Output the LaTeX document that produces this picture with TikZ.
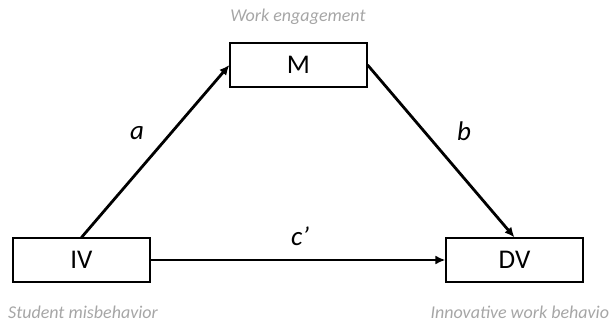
\documentclass[tikz,border=0pt]{standalone}
\usepackage{fontspec}
\setmainfont{Carlito}
\usetikzlibrary{arrows.meta}
\definecolor{labelgray}{HTML}{A6A6A6}
\begin{document}
\begin{tikzpicture}[x=1pt,y=-1pt,
    varbox/.style={draw, line width=1.2pt, minimum width=137pt, minimum height=44pt,
                   inner sep=0pt, font=\fontsize{27}{30}\selectfont},
    varname/.style={text=labelgray, font=\fontsize{18}{21}\selectfont\itshape},
    path/.style={line width=2.8pt, -{Latex[length=10pt,width=9pt]}},
    coef/.style={font=\fontsize{27}{30}\selectfont\itshape}]
    \useasboundingbox (0,0) rectangle (609,323);

    % variables
    \node[varbox] (m)  at (298.5,65)  {M};
    \node[varbox] (iv) at (81.5,260)  {IV};
    \node[varbox] (dv) at (514.5,260) {DV};

    % names of the variables
    \node[varname] (mname)  at (298,17)          {Work engagement};
    \node[varname] (ivname) at (83,312)          {Student misbehavior};
    \node[varname, anchor=west] (dvname) at (427,312) {Innovative work behavior};

    % paths
    \draw[path] (iv.north) -- (m.west);
    \draw[path] (m.east) -- (dv.north);
    \draw[path] (iv.east) -- (dv.west);

    % coefficients
    \node[coef] (a)  at (137,133) {a};
    \node[coef] (b)  at (464,131) {b};
    \node[coef] (cp) at (300,236) {c’};
\end{tikzpicture}
\end{document}
